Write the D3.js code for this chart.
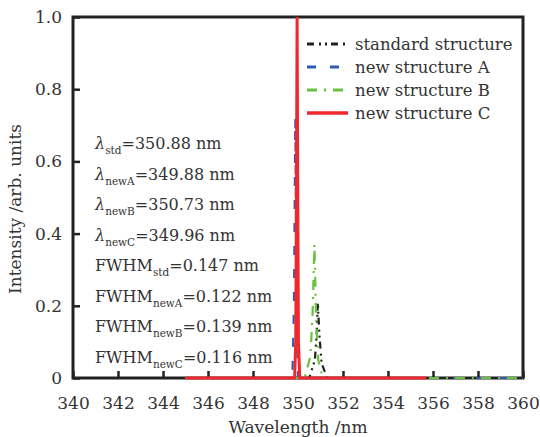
<!DOCTYPE html>
<html>
<head>
<meta charset="utf-8">
<script src="https://cdn.jsdelivr.net/npm/d3@7"></script>
<style>
  body { margin: 0; background: #fff; }
  svg text { font-family: "DejaVu Serif", serif; fill: #333; }
</style>
</head>
<body>
<div class="chart-wrapper"></div>
<script>
// tick values
const xTicks = [340, 342, 344, 346, 348, 350, 352, 354, 356, 358, 360];
const yTicks = [0, 0.2, 0.4, 0.6, 0.8, 1.0];

// spectra: [wavelength nm, intensity]
const stdSpec = [[345, 0], [350.5, 0], [350.75, 0.05], [350.83, 0.12], [350.88, 0.21], [350.95, 0.12], [351.05, 0.04], [351.3, 0], [360, 0]];
const newASpec = [[345, 0], [349.75, 0], [349.82, 0.2], [349.85, 0.45], [349.88, 0.72], [349.91, 0.45], [349.94, 0.2], [350.0, 0], [360, 0]];
const newBSpec = [[345, 0], [350.3, 0], [350.55, 0.06], [350.65, 0.18], [350.73, 0.37], [350.8, 0.18], [350.9, 0.05], [351.1, 0], [360, 0]];
const newCSpec = [[345, 0], [349.85, 0], [349.9, 0.1], [349.93, 0.5], [349.96, 1.0], [349.99, 0.5], [350.02, 0.1], [350.08, 0], [355.7, 0]];

const seriesNames = ["standard structure", "new structure A", "new structure B", "new structure C"];
const seriesData = [stdSpec, newASpec, newBSpec, newCSpec];

// annotation lines: main text, subscript, rest
const noteLabels = [
  ["λ", "std", "=350.88 nm"],
  ["λ", "newA", "=349.88 nm"],
  ["λ", "newB", "=350.73 nm"],
  ["λ", "newC", "=349.96 nm"],
  ["FWHM", "std", "=0.147 nm"],
  ["FWHM", "newA", "=0.122 nm"],
  ["FWHM", "newB", "=0.139 nm"],
  ["FWHM", "newC", "=0.116 nm"]
];

const styles = [
  { color: "#222", dash: "7,5,2,4,2,4", width: 2.2 },
  { color: "#2f5cb0", dash: "9,14", width: 2.2 },
  { color: "#6cc040", dash: "10,7,2,7", width: 2.2 },
  { color: "#f0282d", dash: null, width: 3 }
];

const W = 540, H = 437;
const margin = { top: 17, right: 17, bottom: 59, left: 73 };
const iw = W - margin.left - margin.right;
const ih = H - margin.top - margin.bottom;

const svg = d3.select(".chart-wrapper").append("svg")
  .attr("width", W).attr("height", H);

const g = svg.append("g").attr("transform", `translate(${margin.left},${margin.top})`);

const x = d3.scaleLinear().domain([340, 360]).range([0, iw]);
const y = d3.scaleLinear().domain([0, 1]).range([ih, 0]);

// axes with inward ticks
const xAxis = g.append("g").attr("transform", `translate(0,${ih})`)
  .call(d3.axisBottom(x).tickValues(xTicks).tickSize(-7).tickPadding(19).tickFormat(d3.format("d")));
const yAxis = g.append("g")
  .call(d3.axisLeft(y).tickValues(yTicks).tickSize(-7).tickPadding(11)
    .tickFormat(d => d === 0 ? "0" : d3.format(".1f")(d)));

[xAxis, yAxis].forEach(a => {
  a.select(".domain").remove();
  a.selectAll(".tick line").attr("stroke", "#222").attr("stroke-width", 2.5);
  a.selectAll(".tick text").attr("font-size", 17).style("font-family", "DejaVu Serif, serif").attr("fill", "#333");
});

// frame under the lines
g.append("rect")
  .attr("width", iw).attr("height", ih)
  .attr("fill", "none").attr("stroke", "#222").attr("stroke-width", 3);

// lines
const line = d3.line().x(d => x(d[0])).y(d => y(d[1]));
g.append("clipPath").attr("id", "clip").append("rect")
  .attr("x", 0).attr("y", -2).attr("width", iw).attr("height", ih + 4);

seriesData.forEach((data, i) => {
  g.append("path")
    .datum(data)
    .attr("clip-path", "url(#clip)")
    .attr("fill", "none")
    .attr("stroke", styles[i].color)
    .attr("stroke-width", styles[i].width)
    .attr("stroke-dasharray", styles[i].dash)
    .attr("d", line);
});

// legend
const legend = g.append("g").attr("transform", "translate(234,27)");
seriesNames.forEach((name, i) => {
  const row = legend.append("g").attr("transform", `translate(0,${i * 23})`);
  row.append("line")
    .attr("x1", 0).attr("x2", 41).attr("y1", 0).attr("y2", 0)
    .attr("stroke", styles[i].color)
    .attr("stroke-width", styles[i].width + 0.6)
    .attr("stroke-dasharray", styles[i].dash);
  row.append("text")
    .attr("x", 48).attr("y", 6)
    .attr("font-size", 16.5)
    .text(name);
});

// annotation text
const notes = g.append("g").attr("transform", "translate(22,132)");
noteLabels.forEach((d, i) => {
  const t = notes.append("text")
    .attr("y", i * 30.5)
    .attr("font-size", 16);
  t.append("tspan").text(d[0]).style("font-style", d[0] === "λ" ? "italic" : "normal");
  t.append("tspan").text(d[1]).attr("font-size", 10.5).attr("dy", 5);
  t.append("tspan").text(d[2]).attr("dy", -5);
});

// axis titles
svg.append("text")
  .attr("x", margin.left + iw / 2).attr("y", H - 4)
  .attr("text-anchor", "middle").attr("font-size", 17)
  .text("Wavelength /nm");
svg.append("text")
  .attr("transform", "translate(21,209) rotate(-90)")
  .attr("text-anchor", "middle").attr("font-size", 17)
  .text("Intensity /arb. units");
</script>
</body>
</html>
